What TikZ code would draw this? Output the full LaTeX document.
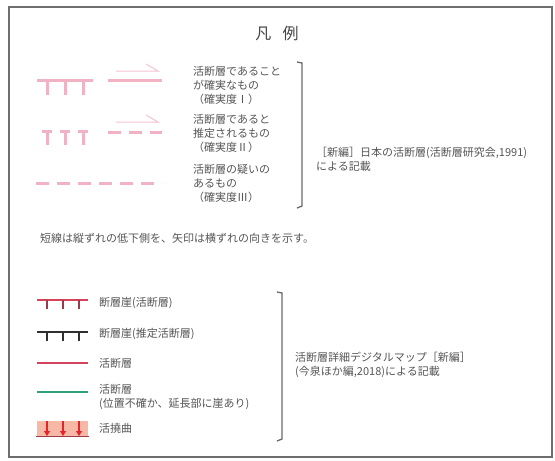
\documentclass[tikz,border=0pt]{standalone}
\usepackage{fontspec}
\setmainfont{Noto Sans CJK JP}
\usetikzlibrary{arrows.meta}
\definecolor{framec}{HTML}{6E6E6E}
\definecolor{txtc}{HTML}{555555}
\definecolor{pinkf}{HTML}{F1B2C3}
\definecolor{pinka}{HTML}{F4C4D0}
\definecolor{redf}{HTML}{D4435B}
\definecolor{redtick}{HTML}{9C3A4A}
\definecolor{blackf}{HTML}{303030}
\definecolor{greenf}{HTML}{2E9E7E}
\definecolor{flexfill}{HTML}{F7B9A6}
\definecolor{flexred}{HTML}{E3262A}
\definecolor{brkc}{HTML}{6A6A6A}
\begin{document}
\begin{tikzpicture}[x=1pt,y=-1pt,
  lbl/.style={anchor=west,inner sep=0pt,align=left,text=txtc,font={\fontsize{11}{13.8}\selectfont}},
  ttl/.style={inner sep=0pt,text=txtc!80!black,font={\fontsize{16}{19}\selectfont}},
  brk/.style={draw=brkc,line width=1.3pt},
  pinkline/.style={draw=pinkf,line width=3pt},
  pinkarrow/.style={draw=pinka,line width=1pt},
  pinkdash/.style={draw=pinkf,line width=3pt,dash pattern=on 13pt off 8pt},
  redline/.style={draw=redf,line width=2.6pt},
  blackline/.style={draw=blackf,line width=2.6pt},
  greenline/.style={draw=greenf,line width=2.6pt},
  tickred/.style={draw=redtick,line width=2.4pt},
  tickblack/.style={draw=blackf,line width=2.4pt},
  flexarrow/.style={draw=flexred,line width=1.8pt,-{Triangle[width=6pt,length=5pt]}}
]
\useasboundingbox (0,0) rectangle (555,461);
\fill[white] (0,0) rectangle (555,461);
\draw[draw=framec,line width=1.5pt] (9,7) rectangle (552,457);

% title
\node[ttl] (title) at (277,33) {凡\hspace{0.7em}例};

% ---- upper legend symbols ----
% row 1
\draw[pinkline] (37,80) -- (93,80);
\foreach \x in {47,65,83} \draw[pinkline] (\x,80) -- (\x,95);
\draw[pinkline] (108,80) -- (162,80);
\draw[pinkarrow] (116,71) -- (158,71) -- (146,64);
% row 2
\foreach \x in {47,65,83} {
  \draw[pinkline] (\x-5,131) -- (\x+5,131);
  \draw[pinkline] (\x,131) -- (\x,145);
}
\draw[pinkdash] (108,132) -- (162,132);
\draw[pinkarrow] (116,122) -- (158,122) -- (146,115);
% row 3
\draw[pinkdash] (36,183) -- (162,183);

% upper texts
\node[lbl] (t1) at (193,85.5) {活断層であること\\が確実なもの\\（確実度Ⅰ）};
\node[lbl] (t2) at (193,133.5) {活断層であると\\推定されるもの\\（確実度Ⅱ）};
\node[lbl] (t3) at (193,183.5) {活断層の疑いの\\あるもの\\（確実度Ⅲ）};

% upper bracket
\draw[brk] (297,62) -- (302,63) -- (302,206) -- (297,208);
\node[lbl] (src1) at (316,159.5) {［新編］日本の活断層(活断層研究会,1991)\\による記載};

% note
\node[lbl] (note) at (40,238) {短線は縦ずれの低下側を、矢印は横ずれの向きを示す。};

% ---- lower legend symbols ----
\draw[redline] (37,300) -- (88,300);
\foreach \x in {47,63,79} \draw[tickred] (\x,300) -- (\x,309);
\draw[blackline] (37,332) -- (88,332);
\foreach \x in {47,63,79} \draw[tickblack] (\x,332) -- (\x,341);
\draw[redline] (37,363) -- (88,363);
\draw[greenline] (37,392) -- (88,392);
\fill[flexfill] (37,421) rectangle (88,436);
\draw[draw=redtick,line width=1.8pt] (36,436.5) -- (89,436.5);
\foreach \x in {47,63,79} \draw[flexarrow] (\x,421) -- (\x,436);

% lower texts
\node[lbl] (l1) at (99,303) {断層崖(活断層)};
\node[lbl] (l2) at (99,334) {断層崖(推定活断層)};
\node[lbl] (l3) at (99,363) {活断層};
\node[lbl] (l4) at (99,397) {活断層\\(位置不確か、延長部に崖あり)};
\node[lbl] (l5) at (99,428) {活撓曲};

% lower bracket
\draw[brk] (277,292) -- (282,293) -- (282,439) -- (277,441);
\node[lbl] (src2) at (295,364.5) {活断層詳細デジタルマップ［新編］\\(今泉ほか編,2018)による記載};
\end{tikzpicture}
\end{document}
